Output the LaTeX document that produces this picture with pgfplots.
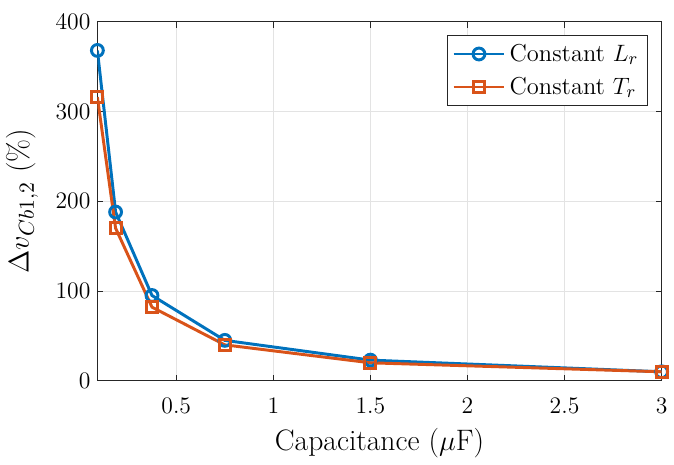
\documentclass[border=0pt]{standalone}
\usepackage{pgfplots}
\pgfplotsset{compat=1.18}
\definecolor{mblue}{rgb}{0,0.447,0.741}
\definecolor{morange}{rgb}{0.851,0.325,0.098}
\definecolor{maxis}{rgb}{0.15,0.15,0.15}

\begin{document}
\begin{tikzpicture}
\begin{axis}[
  scale only axis,
  width=286pt,height=182pt,
  xmin=0.09375,xmax=3,ymin=0,ymax=400,
  xtick={0.5,1,1.5,2,2.5,3},
  ytick={0,100,200,300,400},
  axis line style={maxis,line width=0.5pt},
  tick style={maxis,line width=0.5pt},
  tick align=inside,
  major tick length=3pt,
  grid=major,
  grid style={gray!22,line width=0.4pt},
  tick label style={font=\fontsize{12.4}{14}\selectfont},
  xticklabel style={yshift=-5.5pt},
  label style={font=\fontsize{15}{17}\selectfont},
  xlabel={Capacitance ($\mu$F)},
  ylabel={$\Delta v_{Cb1,2}$ (\%)},
  xlabel style={yshift=-0.5pt},
  ylabel style={yshift=2pt},
  legend style={at={(rel axis cs:1,1)},anchor=north east,xshift=-7pt,yshift=-6.5pt,
    font=\fontsize{12.4}{14}\selectfont,draw=maxis,line width=0.5pt,
    inner sep=2.5pt,row sep=2.5pt},
  legend cell align=left,
  legend image code/.code={
    \draw[mark repeat=2,mark phase=2] plot coordinates {(0cm,0cm)(0.45cm,0cm)(0.9cm,0cm)};},
]
\addplot[mblue,line width=1.5pt,mark=o,mark size=3pt,mark options={line width=1.5pt}] coordinates {
(0.09375,368)(0.1875,188)(0.375,95)(0.75,45)(1.5,23)(3,10)
};
\addlegendentry{Constant $L_r$}
\addplot[morange,line width=1.5pt,mark=square,mark size=2.8pt,mark options={line width=1.5pt}] coordinates {
(0.09375,316)(0.1875,170)(0.375,82)(0.75,40)(1.5,20)(3,10)
};
\addlegendentry{Constant $T_r$}
\end{axis}
\path ([yshift=11pt]current axis.north);
\end{tikzpicture}
\end{document}
